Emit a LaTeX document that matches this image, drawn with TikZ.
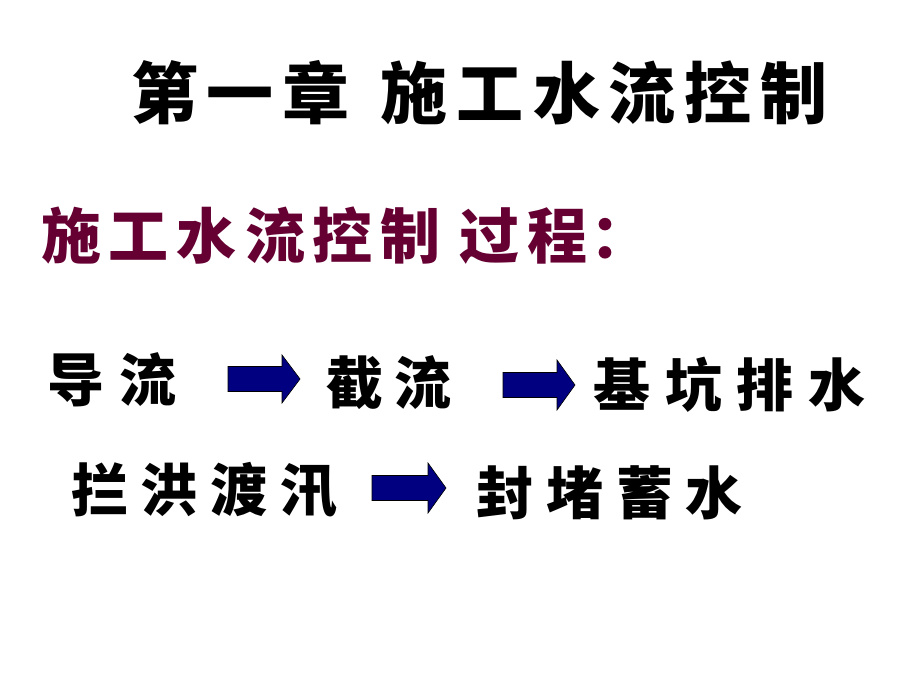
\documentclass[tikz,border=0pt]{standalone}
\usepackage{fontspec}
\newfontfamily\cjk{Noto Sans CJK SC}
\definecolor{titlered}{HTML}{660033}
\definecolor{arrownavy}{HTML}{000080}
\newcommand{\gap}[1]{\kern#1pt\relax}
\begin{document}
\begin{tikzpicture}[x=1pt,y=-1pt,
  txt/.style={anchor=west,inner sep=0pt,outer sep=0pt,font=\cjk\bfseries},
  titletxt/.style={txt,font=\cjk\bfseries\fontsize{67}{70}\selectfont},
  subtxt/.style={txt,text=titlered,font=\cjk\bfseries\fontsize{60}{64}\selectfont},
  rowtxt/.style={txt,font=\cjk\bfseries\fontsize{57}{60}\selectfont},
  blockarrow/.style={fill=arrownavy,draw=black,line width=0.6pt,line join=miter}]
\useasboundingbox (0,0) rectangle (920,690);
\fill[white] (0,0) rectangle (920,690);
% title
\node[titletxt] (title) at (131,93) {第\gap{9}一\gap{9}章\gap{31}施\gap{9}工\gap{9}水\gap{9}流\gap{9}控\gap{9}制};
% subtitle
\node[subtxt] (sub) at (41,236) {施\gap{8}工\gap{8}水\gap{8}流\gap{8}控\gap{8}制\gap{19}过\gap{8}程\gap{3}：};
% row 1
\node[rowtxt] (daoliu) at (47,380) {导\gap{16}流};
\node[rowtxt] (jieliu) at (326,383) {截\gap{12}流};
\node[rowtxt] (jikeng) at (593,385) {基\gap{15}坑\gap{15}排\gap{15}水};
% row 2
\node[rowtxt] (lanhong) at (71,490) {拦\gap{13}洪\gap{13}渡\gap{13}汛};
\node[rowtxt] (fengdu) at (476,493) {封\gap{13}堵\gap{13}蓄\gap{13}水};
% block arrows
\coordinate (a1) at (228,379);
\coordinate (a2) at (503,385);
\coordinate (a3) at (372,488);
\foreach \c/\bl/\hl/\bh/\hh in {a1/54/72/12.5/24, a2/54/72/12.5/25, a3/56/74/12.5/25}{
  \draw[blockarrow,shift={(\c)}] (0,-\bh) -- (\bl,-\bh) -- (\bl,-\hh) -- (\hl,0) -- (\bl,\hh) -- (\bl,\bh) -- (0,\bh) -- cycle;
}
\end{tikzpicture}
\end{document}
